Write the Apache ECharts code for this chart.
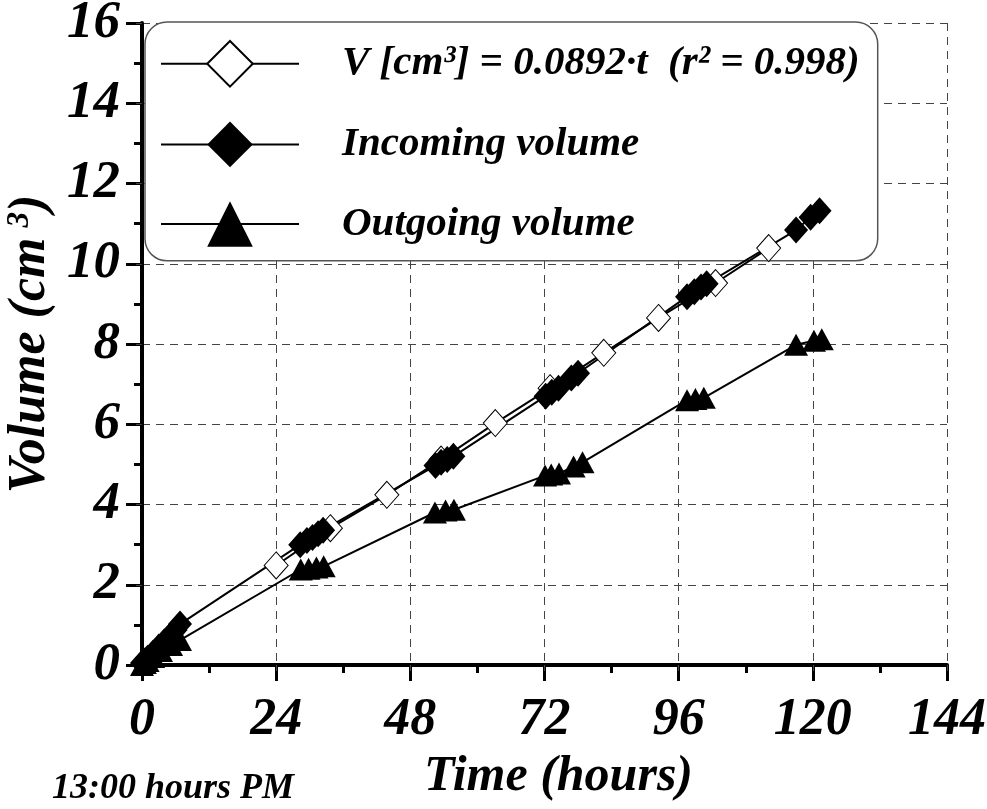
<!DOCTYPE html>
<html><head><meta charset="utf-8">
<script src="https://cdn.jsdelivr.net/npm/echarts@6/dist/echarts.min.js"></script>
<style>html,body{margin:0;padding:0;background:#fff}#c{width:987px;height:809px}</style>
</head><body><div id="c"></div>
<script>
// ---- data ----
const fitLabel = 'V [cm³] = 0.0892·t  (r² = 0.998)';
const incomingLabel = 'Incoming volume';
const outgoingLabel = 'Outgoing volume';
const xTicks = [0, 24, 48, 72, 96, 120, 144];
const yTicks = [0, 2, 4, 6, 8, 10, 12, 14, 16];
const xAxisTitle = 'Time (hours)';
const yAxisTitle = 'Volume (cm{sup|3})';
const startNote = '13:00 hours PM';

const fitPoints = [
  [24, 2.48], [33.7, 3.41], [43.8, 4.24], [53.5, 5.12], [63.2, 6.03], [73, 6.9],
  [82.6, 7.78], [92.4, 8.65], [102.6, 9.52], [112.1, 10.39]
];
const incomingPoints = [
  [0, 0.05], [0.5, 0.1], [1, 0.17], [2, 0.3], [3, 0.45], [4, 0.58], [5, 0.72], [6, 0.87], [6.8, 1.02],
  [28.3, 3.0], [29.5, 3.1], [30.5, 3.18], [31.5, 3.27], [32.4, 3.36],
  [52.5, 4.97], [53.5, 5.05], [54.6, 5.12], [55.7, 5.2],
  [72.2, 6.7], [73.3, 6.8], [74.5, 6.9], [76.8, 7.15], [78, 7.27],
  [97.5, 9.18], [98.8, 9.3], [100, 9.42], [101, 9.5],
  [117, 10.84], [119.6, 11.16], [121.2, 11.32]
];
const outgoingPoints = [
  [0, 0.0], [0.5, 0.05], [1, 0.1], [2, 0.2], [3.4, 0.35], [5.2, 0.5], [6.8, 0.62],
  [28.4, 2.38], [29.8, 2.4], [31.2, 2.43], [32.5, 2.46],
  [52.4, 3.8], [54.3, 3.85], [55.8, 3.87],
  [72.1, 4.72], [73.2, 4.75], [74.6, 4.77], [77.2, 4.95], [78.8, 5.05],
  [97.5, 6.6], [99, 6.63], [100.5, 6.66],
  [117, 7.98], [120.2, 8.08], [121.6, 8.12]
];

// ---- chart ----
const FF = '"Liberation Serif","Times New Roman",serif';
const txt = (size) => ({ fontFamily: FF, fontWeight: 'bold', fontStyle: 'italic', color: '#000', fontSize: size });
const xMin = xTicks[0], xMax = xTicks[xTicks.length - 1], xStep = xTicks[1] - xTicks[0];
const yMin = yTicks[0], yMax = yTicks[yTicks.length - 1], yStep = yTicks[1] - yTicks[0];
const gridLine = { show: true, lineStyle: { color: '#444', width: 1, type: [8, 6] } };

const chart = echarts.init(document.getElementById('c'), null, { renderer: 'canvas' });
chart.setOption({
  animation: false,
  backgroundColor: '#fff',
  grid: { left: 142, right: 40, top: 23, bottom: 144, containLabel: false, outerBoundsMode: 'none' },
  xAxis: [{
    type: 'value', min: xMin, max: xMax, interval: xStep,
    axisLine: { show: true, onZero: false, lineStyle: { color: '#000', width: 4 } },
    axisTick: { show: true, inside: false, length: 16, lineStyle: { color: '#000', width: 3 } },
    minorTick: { show: true, splitNumber: 2, length: 8, lineStyle: { color: '#000', width: 3 } },
    splitLine: gridLine,
    axisLabel: Object.assign({ margin: 30 }, txt(52)),
    name: xAxisTitle, nameLocation: 'middle', nameGap: 76,
    nameTextStyle: Object.assign({ padding: [0, 0, 0, 28] }, txt(50))
  }, {
    type: 'value', position: 'top', min: xMin, max: xMax, interval: xStep,
    axisLine: { show: false }, axisLabel: { show: false }, splitLine: { show: false },
    axisTick: { show: true, inside: true, length: 6, lineStyle: { color: '#444', width: 1 } }
  }],
  yAxis: [{
    type: 'value', min: yMin, max: yMax, interval: yStep,
    axisLine: { show: true, onZero: false, lineStyle: { color: '#000', width: 4 } },
    axisTick: { show: true, inside: false, length: 16, lineStyle: { color: '#000', width: 3 } },
    minorTick: { show: true, splitNumber: 2, length: 8, lineStyle: { color: '#000', width: 3 } },
    splitLine: gridLine,
    axisLabel: Object.assign({ margin: 22 }, txt(53)),
    name: yAxisTitle, nameLocation: 'middle', nameGap: 80,
    nameTextStyle: Object.assign({
      rich: { sup: { fontFamily: FF, fontWeight: 'bold', fontStyle: 'italic', color: '#000', fontSize: 31, verticalAlign: 'top', padding: [0, 0, 0, 10] } }
    }, txt(52))
  }, {
    type: 'value', position: 'right', min: yMin, max: yMax, interval: yStep,
    axisLine: { show: false }, axisLabel: { show: false }, splitLine: { show: false },
    axisTick: { show: true, inside: true, length: 6, lineStyle: { color: '#444', width: 1 } }
  }],
  legend: {
    orient: 'vertical', left: 145, top: 22,
    padding: [18, 18, 14, 15],
    itemWidth: 138, itemHeight: 57, itemGap: 34,
    backgroundColor: '#fff', borderColor: '#555', borderWidth: 1.5, borderRadius: 22,
    textStyle: Object.assign({ padding: [0, 0, 0, 38] }, txt(41)),
    z: 1,
    data: [fitLabel, incomingLabel, outgoingLabel]
  },
  graphic: [{
    type: 'text', left: 52, top: 771,
    style: { text: startNote, font: 'italic bold 36px ' + FF, fill: '#000' }
  }],
  series: [{
    name: fitLabel, type: 'line', data: fitPoints, z: 3, clip: false,
    symbol: 'diamond', symbolSize: [24, 27],
    itemStyle: { color: '#fff', borderColor: '#000', borderWidth: 1 },
    lineStyle: { color: '#000', width: 2 }
  }, {
    name: incomingLabel, type: 'line', data: incomingPoints, z: 3, clip: false,
    symbol: 'diamond', symbolSize: [24, 27],
    itemStyle: { color: '#000', borderColor: '#000', borderWidth: 0 },
    lineStyle: { color: '#000', width: 2 }
  }, {
    name: outgoingLabel, type: 'line', data: outgoingPoints, z: 3, clip: false,
    symbol: 'triangle', symbolSize: [24, 22],
    itemStyle: { color: '#000', borderColor: '#000', borderWidth: 0 },
    lineStyle: { color: '#000', width: 2 }
  }]
});
</script>
</body></html>
